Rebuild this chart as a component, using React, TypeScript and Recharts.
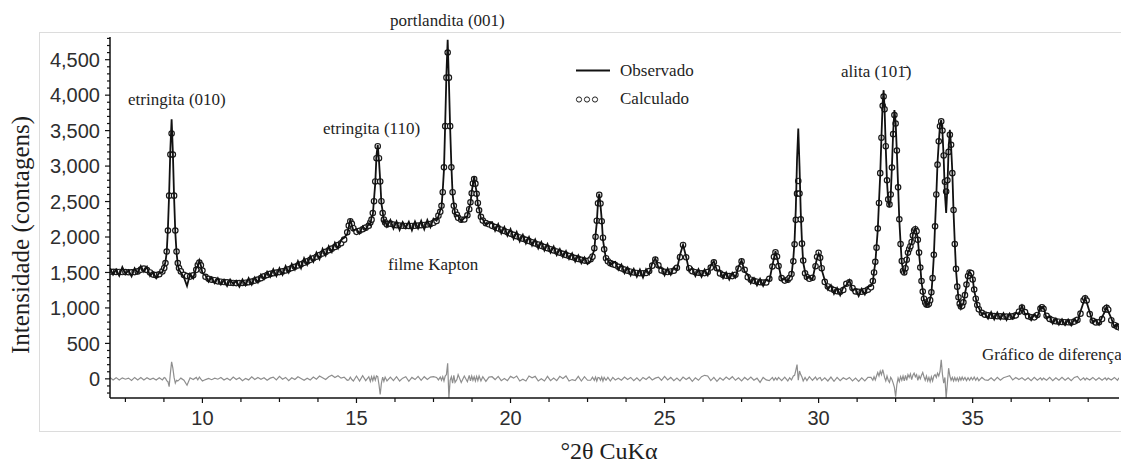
import { ComposedChart, Line, XAxis, YAxis } from "recharts";

// 2θ positions (one line per stretch of the pattern)
const twoTheta = [
  7.0, 7.1, 7.2, 7.3, 7.4, 7.5, 7.6, 7.7, 7.8, 7.9, 8.0, 8.1, 8.2, 8.3, 8.4, 8.5, 8.6,
  8.7, 8.76, 8.8, 8.84, 8.88, 8.92, 8.96, 9.0, 9.04, 9.08, 9.12, 9.16, 9.2, 9.24, 9.3,
  9.4, 9.5, 9.6, 9.7, 9.8, 9.85, 9.9, 9.95, 10.0, 10.1, 10.2, 10.3, 10.4,
  10.5, 10.6, 10.7, 10.8, 10.9, 11.0, 11.1, 11.2, 11.3, 11.4, 11.5, 11.6, 11.7, 11.8, 11.9, 12.0, 12.1, 12.2, 12.3, 12.4,
  12.5, 12.6, 12.7, 12.8, 12.9, 13.0, 13.1, 13.2, 13.3, 13.4, 13.5, 13.6, 13.7, 13.8, 13.9, 14.0, 14.1, 14.2, 14.3, 14.4, 14.5,
  14.6, 14.7, 14.75, 14.8, 14.85, 14.9, 15.0, 15.1, 15.2, 15.3, 15.4,
  15.45, 15.49, 15.53, 15.57, 15.61, 15.65, 15.69, 15.73, 15.77, 15.81, 15.85, 15.89, 15.93, 15.99,
  16.1, 16.2, 16.3, 16.4, 16.5, 16.6, 16.7, 16.8, 16.9, 17.0, 17.1, 17.2, 17.3, 17.4, 17.5, 17.6,
  17.66, 17.72, 17.76, 17.8, 17.84, 17.88, 17.92, 17.96, 18.0, 18.04, 18.08, 18.12, 18.16, 18.2, 18.26,
  18.3, 18.4, 18.5, 18.6, 18.66, 18.7, 18.74, 18.78, 18.82, 18.86, 18.9, 18.94, 18.98, 19.04, 19.1, 19.2, 19.3,
  19.4, 19.5, 19.6, 19.7, 19.8, 19.9, 20.0, 20.1, 20.2, 20.3, 20.4, 20.5, 20.6, 20.7, 20.8, 20.9,
  21.0, 21.1, 21.2, 21.3, 21.4, 21.5, 21.6, 21.7, 21.8, 21.9, 22.0, 22.1, 22.2, 22.3, 22.4, 22.5,
  22.6, 22.66, 22.72, 22.76, 22.8, 22.84, 22.88, 22.92, 22.96, 23.0, 23.04, 23.1, 23.16, 23.24, 23.32,
  23.4, 23.5, 23.6, 23.7, 23.8, 23.9, 24.0, 24.1, 24.2, 24.3, 24.4, 24.5, 24.6, 24.7, 24.8, 24.9, 25.0, 25.1, 25.2, 25.3,
  25.4, 25.5, 25.6, 25.7, 25.8, 25.9, 26.0, 26.1, 26.2, 26.3, 26.4, 26.5, 26.6, 26.7, 26.8, 26.9, 27.0, 27.1, 27.2, 27.3,
  27.4, 27.5, 27.6, 27.7, 27.8, 27.9, 28.0, 28.1, 28.2, 28.3,
  28.4, 28.5, 28.55, 28.6, 28.65, 28.7, 28.8, 28.9, 29.0, 29.06, 29.12, 29.18, 29.22, 29.26, 29.3, 29.34, 29.38, 29.42, 29.46, 29.5, 29.56, 29.62, 29.7,
  29.8, 29.9, 29.95, 30.0, 30.05, 30.1, 30.2, 30.3, 30.4, 30.5, 30.6, 30.7, 30.8, 30.9, 31.0, 31.1, 31.2, 31.3, 31.4, 31.5, 31.6,
  31.7, 31.76, 31.8, 31.84, 31.88, 31.92, 31.96, 32.0, 32.04, 32.08,
  32.11, 32.14, 32.18, 32.22, 32.26, 32.3, 32.34, 32.38, 32.42, 32.46,
  32.5, 32.54, 32.58, 32.62, 32.66, 32.7, 32.74, 32.78, 32.82, 32.86,
  32.9, 32.94, 32.98, 33.02, 33.06, 33.1, 33.14, 33.18, 33.22, 33.26,
  33.3, 33.34, 33.38, 33.42, 33.46, 33.5, 33.54, 33.58, 33.62, 33.66,
  33.7, 33.74, 33.78, 33.82, 33.86, 33.9, 33.94, 33.98, 34.02, 34.06,
  34.1, 34.14, 34.18, 34.22, 34.26, 34.3, 34.34, 34.38, 34.42, 34.46,
  34.5, 34.54, 34.58, 34.62, 34.66, 34.7, 34.75, 34.8, 34.85, 34.9,
  34.95, 35.0, 35.05, 35.1, 35.15, 35.2, 35.3, 35.4,
  35.5, 35.6, 35.7, 35.8, 35.9, 36.0, 36.1, 36.2, 36.3, 36.4,
  36.5, 36.6, 36.7, 36.8, 36.9, 37.0, 37.1, 37.2, 37.25, 37.3,
  37.4, 37.5, 37.6, 37.7, 37.8, 37.9, 38.0, 38.1, 38.2, 38.3,
  38.4, 38.5, 38.6, 38.65, 38.7, 38.8, 38.9, 39.0, 39.1, 39.2,
  39.3, 39.35, 39.4, 39.5, 39.6, 39.7, 39.75,
];

const observed = [
  1560, 1470, 1540, 1455, 1575, 1480, 1530, 1445, 1560, 1490, 1590, 1510, 1580, 1450, 1500, 1420, 1500,
  1500, 1580, 1650, 1780, 2120, 2620, 3250, 3660, 3200, 2560, 2060, 1780, 1610, 1540, 1500,
  1430, 1310, 1480, 1420, 1570, 1590, 1670, 1600, 1490, 1460, 1370, 1430, 1350,
  1420, 1330, 1395, 1310, 1400, 1335, 1380, 1300, 1400, 1320, 1420, 1330, 1430, 1360, 1470, 1410, 1510, 1440, 1545, 1450,
  1560, 1470, 1590, 1500, 1620, 1540, 1660, 1560, 1700, 1610, 1730, 1650, 1780, 1690, 1830, 1740, 1870, 1790, 1920, 1840, 1960,
  1990, 2040, 2140, 2250, 2170, 2090, 2110, 2050, 2150, 2100, 2190,
  2170, 2280, 2310, 2540, 2760, 3150, 3300, 3080, 2800, 2470, 2360, 2210, 2230, 2150,
  2240, 2120, 2220, 2100, 2210, 2130, 2215, 2095, 2220, 2120, 2230, 2110, 2240, 2140, 2260, 2230,
  2290, 2380, 2420, 2660, 2950, 3600, 4300, 4780, 4200, 3540, 3010, 2600, 2460, 2330, 2300,
  2300, 2220, 2270, 2290, 2420, 2470, 2640, 2740, 2850, 2730, 2630, 2460, 2400, 2260, 2250, 2170, 2200,
  2210, 2090, 2180, 2050, 2140, 2020, 2110, 1975, 2070, 1940, 2030, 1910, 2000, 1880, 1965, 1840,
  1930, 1810, 1900, 1780, 1865, 1745, 1830, 1720, 1800, 1690, 1770, 1655, 1740, 1630, 1710, 1620,
  1660, 1750, 1820, 2030, 2200, 2500, 2610, 2450, 2250, 1960, 1850, 1680, 1680, 1600, 1640,
  1650, 1540, 1610, 1490, 1570, 1460, 1550, 1440, 1540, 1430, 1545, 1480, 1630, 1700, 1570, 1570, 1460, 1555, 1470, 1570,
  1540, 1745, 1890, 1720, 1520, 1560, 1450, 1545, 1440, 1540, 1460, 1600, 1660, 1530, 1530, 1420, 1500, 1400, 1495, 1430,
  1580, 1670, 1510, 1470, 1350, 1420, 1320, 1410, 1310, 1400,
  1380, 1600, 1700, 1800, 1710, 1610, 1390, 1410, 1370, 1440, 1460, 1700, 1950, 2400, 3100, 3530, 3000, 2350, 1930, 1640, 1510, 1410, 1440,
  1400, 1610, 1700, 1770, 1720, 1540, 1390, 1260, 1320, 1200, 1280, 1180, 1290, 1320, 1390, 1240, 1270, 1170, 1270, 1190, 1300,
  1310, 1360, 1520, 1630, 1870, 2100, 2500, 2880, 3420, 3900,
  4070, 3820, 3250, 2780, 2500, 2420, 2580, 3000, 3480, 3790,
  3620, 3200, 2720, 2230, 1920, 1640, 1540, 1470, 1580, 1650,
  1800, 1810, 1890, 1910, 2040, 2080, 2130, 2060, 1980, 1760,
  1590, 1360, 1250, 1110, 1090, 1030, 1060, 1040, 1130, 1200,
  1440, 1730, 2170, 2580, 3050, 3330, 3580, 3650, 3480, 3100,
  2600, 2340, 2700, 3250, 3510, 3280, 2920, 2350, 1920, 1530,
  1320, 1130, 1080, 1000, 1050, 1060, 1200, 1310, 1470, 1510,
  1480, 1420, 1240, 1150, 1020, 1000, 910, 925,
  850, 940, 840, 935, 845, 925, 830, 920, 850, 930,
  920, 1030, 910, 920, 830, 910, 870, 1020, 990, 1010,
  850, 880, 780, 850, 765, 840, 760, 835, 755, 845,
  800, 950, 1080, 1150, 1080, 940, 790, 830, 765, 870,
  955, 1020, 950, 855, 730, 770, 700,
];

const calculated = [
  1510, 1510, 1508, 1507, 1506, 1505, 1504, 1503, 1505, 1515, 1540, 1555, 1535, 1500, 1470, 1462, 1475,
  1515, 1562, 1633, 1795, 2092, 2583, 3162, 3460, 3162, 2583, 2092, 1795, 1633, 1562, 1515,
  1466, 1449, 1442, 1459, 1537, 1605, 1639, 1600, 1526, 1439, 1410, 1398, 1391,
  1375, 1370, 1365, 1360, 1356, 1352, 1350, 1350, 1352, 1356, 1362, 1372, 1385, 1400, 1420, 1445, 1465, 1480, 1490, 1498,
  1505, 1515, 1528, 1544, 1562, 1580, 1598, 1616, 1636, 1656, 1678, 1700, 1722, 1745, 1768, 1790, 1813, 1836, 1860, 1885, 1912,
  1963, 2067, 2160, 2223, 2185, 2124, 2073, 2087, 2109, 2132, 2160,
  2205, 2245, 2337, 2505, 2783, 3111, 3280, 3111, 2783, 2505, 2337, 2245, 2205, 2178,
  2188, 2175, 2167, 2162, 2158, 2156, 2155, 2156, 2158, 2162, 2166, 2170, 2176, 2184, 2200, 2226,
  2301, 2356, 2440, 2632, 2982, 3563, 4247, 4600, 4247, 3563, 2982, 2632, 2440, 2360, 2312,
  2270, 2244, 2247, 2307, 2392, 2490, 2616, 2755, 2818, 2752, 2610, 2480, 2377, 2284, 2231, 2195, 2179,
  2157, 2140, 2122, 2103, 2085, 2066, 2048, 2030, 2011, 1994, 1977, 1960, 1943, 1926, 1909, 1892,
  1875, 1859, 1843, 1827, 1811, 1795, 1779, 1764, 1748, 1733, 1718, 1704, 1691, 1678, 1667, 1661,
  1687, 1723, 1842, 2002, 2230, 2476, 2594, 2472, 2222, 1990, 1826, 1701, 1659, 1631, 1617,
  1605, 1579, 1558, 1540, 1524, 1511, 1500, 1493, 1489, 1488, 1493, 1520, 1596, 1682, 1600, 1528, 1510, 1506, 1514, 1524,
  1565, 1716, 1888, 1714, 1560, 1517, 1504, 1496, 1488, 1491, 1505, 1569, 1643, 1560, 1487, 1464, 1453, 1450, 1449, 1468,
  1555, 1656, 1538, 1434, 1398, 1382, 1370, 1362, 1358, 1360,
  1410, 1584, 1721, 1785, 1724, 1590, 1420, 1385, 1399, 1424, 1478, 1657, 1897, 2242, 2611, 2790, 2612, 2248, 1906, 1668, 1488, 1436, 1411,
  1425, 1588, 1721, 1777, 1706, 1560, 1367, 1303, 1274, 1253, 1235, 1227, 1253, 1340, 1360, 1281, 1233, 1226, 1229, 1238, 1258,
  1290, 1380, 1500, 1650, 1850, 2120, 2480, 2900, 3400, 3850,
  3980, 3800, 3280, 2800, 2530, 2460, 2600, 2980, 3450, 3720,
  3600, 3220, 2700, 2250, 1900, 1660, 1520, 1500, 1560, 1680,
  1780, 1830, 1870, 1930, 2020, 2090, 2110, 2080, 1960, 1780,
  1570, 1380, 1230, 1130, 1075, 1050, 1045, 1060, 1110, 1220,
  1420, 1750, 2150, 2600, 3020, 3350, 3560, 3630, 3500, 3150,
  2780, 2640, 2800, 3200, 3440, 3300, 2900, 2380, 1900, 1550,
  1300, 1150, 1060, 1020, 1030, 1080, 1180, 1330, 1450, 1500,
  1490, 1400, 1260, 1130, 1040, 980, 930, 905,
  895, 890, 886, 883, 881, 879, 877, 875, 881, 895,
  947, 1004, 941, 883, 868, 867, 901, 992, 1010, 988,
  889, 845, 826, 812, 806, 802, 799, 797, 795, 807,
  831, 919, 1107, 1136, 1105, 912, 819, 796, 798, 843,
  979, 1002, 975, 827, 760, 736, 726,
];

const difference = [
  20, -15, 17, -17, 14, -5, 11, -23, 20, -15, 20, -15, 15, -10, 10, -17, 15,
  -15, 18, 10, -25, -40, -110, 80, 240, 150, 20, -60, -20, -30, -15, 10,
  -20, -90, 15, -10, 20, -15, 25, -5, -30, -10, 5, -12, 10,
  -5, 20, -15, 10, -20, 25, -10, 15, -25, 5, -15, 30, -10, 20, -5, 15, -20, 10, 25, -15,
  35, -5, 20, -25, 15, -10, 30, 5, -20, 10, -15, 25, -5, 40, 15, -10, 30, 50, 20, 45, 10,
  25, -20, -15, 25, -10, -30, 40, -30, 45, -25, 30,
  -35, 30, -25, 35, -20, 40, 30, -80, -220, -60, 25, -35, 25, -30,
  25, -25, 30, -30, 10, 30, -35, 20, -10, 35, -20, 30, -10, 25, 30, 20,
  -15, 25, -20, 30, -30, 40, 60, 220, -270, -20, 30, -60, 50, -50, -10,
  60, -50, 40, -40, 50, -30, 40, -20, 30, -30, 35, -25, 40, -30, 30, -35, 25,
  30, -10, 35, -25, 5, -25, 35, 10, 40, -30, -5, -30, 40, 15, 35, -30,
  0, -30, 35, -25, 10, -25, 35, 5, 40, -30, -10, -25, 35, -30, 30, -20,
  -20, 25, -20, 25, -30, 20, 15, -20, 25, -30, 20, -20, 20, -30, 20,
  -15, 10, -20, 25, -10, 20, -25, 15, -30, 20, -10, 30, -15, 10, 25, -20, 35, -15, 20, -25,
  10, -30, 25, -10, 20, -35, 15, -20, 30, 50, 40, -25, 20, -35, 15, -20, 25, -10, 30, -20,
  15, -30, 20, -15, 25, -20, 10, -50, 20, -15,
  -25, 20, -20, 15, -15, 20, -25, 25, -30, 15, -15, 40, 50, 120, 200, -20, 110, 60, 25, -30, 20, -25, 30,
  -20, 25, -15, 10, 20, -25, 15, -30, 25, -35, 20, -25, 15, -10, 20, -30, 10, -35, 15, -30, 20,
  20, -20, 30, -15, 40, 90, 40, 110, 60, 130,
  80, 20, -30, 40, -20, -50, 20, -10, -60, -120,
  -250, -80, 10, -40, 30, -20, 40, -30, 50, -20,
  60, 20, 70, -10, 50, 80, 30, 60, -20, 40,
  0, 50, 90, 30, -20, 40, -30, 20, -40, 30,
  -30, 40, 60, 20, 80, 40, 100, 270, 60, -60,
  20, -270, -60, 150, 40, -20, 20, -30, 20, -25,
  15, -30, 20, -20, 25, -15, 20, -25, 15, -20,
  20, -15, 25, -20, 15, -25, 20, -15,
  -20, 15, -25, 20, -20, 15, 30, 45, -15, 20,
  -10, 15, -20, 15, -25, 20, -20, 15, -15, 10,
  -20, 20, -25, 15, -20, 20, -20, 15, -25, 20,
  35, -20, 15, -15, 10, -15, 20, -20, 15, -20,
  15, -15, 10, -15, 20, -20, 15,
];

const yLabelTicks = [0, 500, 1000, 1500, 2000, 2500, 3000, 3500, 4000, 4500];
const yTicks = [
  -200, -100, 0, 100, 200, 300, 400, 500, 600, 700, 800, 900, 1000, 1100, 1200, 1300, 1400,
  1500, 1600, 1700, 1800, 1900, 2000, 2100, 2200, 2300, 2400, 2500, 2600, 2700, 2800, 2900,
  3000, 3100, 3200, 3300, 3400, 3500, 3600, 3700, 3800, 3900, 4000, 4100, 4200, 4300, 4400,
  4500, 4600, 4700, 4800,
];
const xLabelTicks = [10, 15, 20, 25, 30, 35];
const xTicks = [
  7.5, 8.75, 10, 11.25, 12.5, 13.75, 15, 16.25, 17.5, 18.75, 20, 21.25, 22.5,
  23.75, 25, 26.25, 27.5, 28.75, 30, 31.25, 32.5, 33.75, 35, 36.25, 37.5, 38.75,
];

const rows = twoTheta.map((t, i) => ({
  t,
  obs: observed[i],
  calc: calculated[i],
  diff: difference[i],
}));

const xDomain = [7, 39.75];
const yDomain = [-270, 4820];
const chartMargin = { top: 37, right: 2, bottom: 0, left: 0 };

const sans = "'Liberation Sans', Arial, sans-serif";
const serif = "'Liberation Serif', 'Times New Roman', serif";

function YTick({ x, y, payload }: any) {
  const v = payload.value;
  const major = yLabelTicks.includes(v);
  return (
    <g>
      <line x1={x - (major ? 5 : 3)} x2={x} y1={y} y2={y} stroke="#111" strokeWidth={1.2} />
      {major && (
        <text x={x - 10} y={y} dy="0.36em" textAnchor="end" fontSize={20} fill="#2e2e2e" fontFamily={sans}>
          {v.toLocaleString("en-US")}
        </text>
      )}
    </g>
  );
}

function XTick({ x, y, payload }: any) {
  const v = payload.value;
  const major = xLabelTicks.includes(v);
  return (
    <g>
      <line x1={x} x2={x} y1={y} y2={y + (major ? 5 : 4)} stroke="#111" strokeWidth={1.2} />
      {major && (
        <text x={x} y={y + 27} textAnchor="middle" fontSize={20} fill="#2e2e2e" fontFamily={sans}>
          {v}
        </text>
      )}
    </g>
  );
}

const layer = { position: "absolute" as const, left: 0, top: 0 };

export default function App() {
  return (
    <div style={{ ...layer, width: 1121, height: 463, background: "#fff", overflow: "hidden" }}>
      <svg width={1121} height={463} style={layer}>
        <rect x={39.5} y={32.5} width={1100} height={399} fill="none" stroke="#dcdcdc" />
      </svg>

      {/* axes, difference curve and calculated points */}
      <div style={layer}>
        <ComposedChart width={1121} height={463} data={rows} margin={chartMargin}>
          <XAxis
            dataKey="t"
            type="number"
            domain={xDomain}
            allowDataOverflow
            ticks={xTicks}
            interval={0}
            tick={XTick}
            tickLine={false}
            tickSize={0}
            tickMargin={0}
            height={65}
            axisLine={{ stroke: "#111", strokeWidth: 1.5 }}
          />
          <YAxis
            type="number"
            domain={yDomain}
            allowDataOverflow
            ticks={yTicks}
            interval={0}
            tick={YTick}
            tickLine={false}
            tickSize={0}
            tickMargin={0}
            width={110}
            axisLine={{ stroke: "#111", strokeWidth: 1.5 }}
          />
          <Line dataKey="diff" type="linear" stroke="#8e8e8e" strokeWidth={1.2} dot={false} isAnimationActive={false} />
          <Line
            dataKey="calc"
            type="linear"
            stroke="none"
            dot={{ r: 2.7, fill: "#fff", stroke: "#1a1a1a", strokeWidth: 1.2 }}
            isAnimationActive={false}
          />
        </ComposedChart>
      </div>

      {/* observed trace drawn over the calculated points */}
      <div style={layer}>
        <ComposedChart width={1121} height={463} data={rows} margin={chartMargin}>
          <XAxis dataKey="t" type="number" domain={xDomain} allowDataOverflow height={65} axisLine={false} tickLine={false} tick={false} />
          <YAxis type="number" domain={yDomain} allowDataOverflow width={110} axisLine={false} tickLine={false} tick={false} />
          <Line dataKey="obs" type="linear" stroke="#111" strokeWidth={1.8} dot={false} isAnimationActive={false} />
        </ComposedChart>
      </div>

      <svg width={1121} height={463} style={{ ...layer, pointerEvents: "none" }}>
        <g fontFamily={serif} fontSize={17} fill="#1e1e1e">
          <text x={390} y={26}>portlandita (001)</text>
          <text x={128} y={105}>etringita (010)</text>
          <text x={323} y={134}>etringita (110)</text>
          <text x={841} y={77}>alita (101̄)</text>
          <text x={388} y={270}>filme Kapton</text>
          <text x={982} y={360}>Gráfico de diferença</text>
          <text x={620} y={76}>Observado</text>
          <text x={620} y={104}>Calculado</text>
        </g>
        <line x1={576} x2={610} y1={70.5} y2={70.5} stroke="#111" strokeWidth={2} />
        <circle cx={579} cy={99.5} r={2.6} fill="#fff" stroke="#222" strokeWidth={1} />
        <circle cx={587} cy={99.5} r={2.6} fill="#fff" stroke="#222" strokeWidth={1} />
        <circle cx={595} cy={99.5} r={2.6} fill="#fff" stroke="#222" strokeWidth={1} />
        <text x={609} y={459} textAnchor="middle" fontFamily={serif} fontSize={24} fill="#1e1e1e">
          °2θ CuKα
        </text>
        <text
          transform="translate(29 235) rotate(-90)"
          textAnchor="middle"
          fontFamily={serif}
          fontSize={25}
          fill="#1e1e1e"
        >
          Intensidade (contagens)
        </text>
      </svg>
    </div>
  );
}
